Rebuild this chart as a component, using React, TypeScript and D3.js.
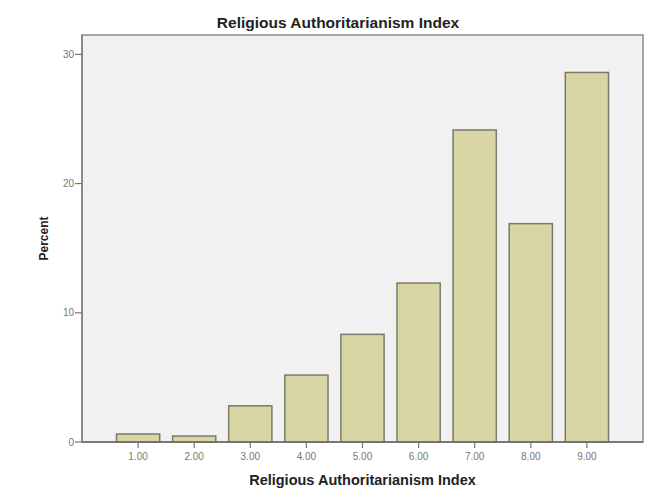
import React from "react";
import * as d3 from "d3";

const categories = ["1.00", "2.00", "3.00", "4.00", "5.00", "6.00", "7.00", "8.00", "9.00"];
const percents = [0.62, 0.46, 2.8, 5.18, 8.33, 12.3, 24.15, 16.9, 28.6];
const yTicks = [0, 10, 20, 30];
const title = "Religious Authoritarianism Index";
const xTitle = "Religious Authoritarianism Index";
const yTitle = "Percent";

const W = 651;
const H = 491;
const left = 82;
const right = 643;
const top = 35;
const bottom = 442;

export default function App() {
  const x = d3.scalePoint<string>().domain(categories).range([left, right]).padding(1);
  const y = d3.scaleLinear().domain([0, 31.5]).range([bottom, top]);
  const bw = x.step() * 0.77;
  const font = "'Liberation Sans', Arial, sans-serif";
  return (
    <svg width={W} height={H} style={{ position: "absolute", left: 0, top: 0, background: "#fff" }} fontFamily={font}>
      <text x={338} y={28} textAnchor="middle" fontSize={15.5} fontWeight="bold" fill="#222">{title}</text>
      <rect x={left} y={top} width={right - left} height={bottom - top} fill="#f1f1f1" stroke="#8a8a8a" strokeWidth={1.5} />
      {categories.map((c, i) => (
        <rect key={c} x={(x(c) as number) - bw / 2} y={y(percents[i])} width={bw} height={bottom - y(percents[i])}
          fill="#d9d6a6" stroke="#7a7a6a" strokeWidth={1.5} />
      ))}
      <line x1={left} x2={right} y1={bottom} y2={bottom} stroke="#6a6a6a" strokeWidth={1.5} />
      <line x1={left} x2={left} y1={top} y2={bottom} stroke="#8a8a8a" strokeWidth={2} />
      {yTicks.map(t => (
        <g key={t}>
          <line x1={left - 7} x2={left} y1={y(t)} y2={y(t)} stroke="#777" strokeWidth={1.2} />
          <text x={left - 8} y={y(t) + 3.5} textAnchor="end" fontSize={10} fill="#777">{t}</text>
        </g>
      ))}
      {categories.map(c => (
        <g key={c}>
          <line x1={x(c)} x2={x(c)} y1={bottom} y2={bottom + 6} stroke="#777" strokeWidth={1.2} />
          <text x={x(c)} y={bottom + 18} textAnchor="middle" fontSize={10} fill="#777">{c}</text>
        </g>
      ))}
      <text x={(left + right) / 2} y={485} textAnchor="middle" fontSize={14.5} fontWeight="bold" fill="#222">{xTitle}</text>
      <text transform={`translate(48, ${(top + bottom) / 2}) rotate(-90)`} textAnchor="middle" fontSize={12} fontWeight="bold" fill="#222">{yTitle}</text>
    </svg>
  );
}
